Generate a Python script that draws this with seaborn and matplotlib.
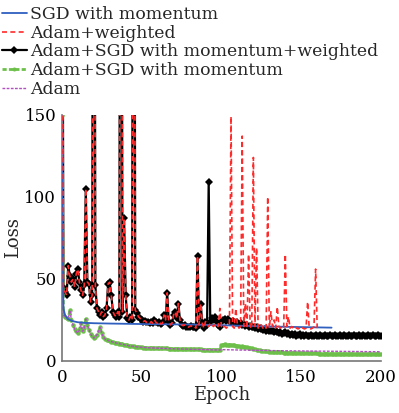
import numpy as np
import seaborn as sns
import matplotlib.pyplot as plt

# Adam+SGD with momentum+weighted, epochs 0..200
black_y = [400, 45, 42, 40, 58, 52, 48, 50, 45, 53,
           56, 48, 43, 40, 46, 105, 48, 47, 36, 40,
           600, 46, 32, 30, 28, 30, 27, 28, 32, 47,
           48, 40, 30, 28, 27, 30, 27, 600, 30, 87,
           40, 26, 25, 27, 25, 600, 31, 29, 27, 26,
           25, 24, 24.5, 23.5, 24, 23, 24, 23, 25, 23.5,
           23, 24, 22.5, 23, 28, 25, 41.5, 24, 22, 23,
           28, 30, 26, 35, 25, 22, 21.5, 22, 21, 20.5,
           21, 21.5, 20.5, 21, 20, 64, 22, 35, 23, 20,
           24, 22, 109, 24, 26, 25, 27, 24, 22, 21,
           24, 25, 25.5, 24.5, 25.5, 24.5, 24, 24.5, 23.5, 23,
           23.5, 22.5, 23, 22, 22.5, 21.5, 22, 21, 21.5, 20.5,
           21, 20, 20.5, 19.5, 20, 19.5, 19, 19.5, 18.5, 19,
           18.5, 18, 18.5, 17.5, 18, 17.5, 17, 17.5, 16.5, 17,
           17.5, 16.5, 17, 16, 16.5, 16, 16.5, 15.5, 16, 16.5,
           15.5, 16, 15.5, 16, 15, 15.5, 16, 15, 15.5, 16,
           15, 15.5, 16, 15, 15.5, 16, 15, 15.5, 16, 15,
           15.5, 16, 15, 15.5, 16, 15, 15.5, 16, 15, 15.5,
           16, 15, 15.5, 16, 15, 15.5, 16, 15, 15.5, 16,
           15, 15.5, 16, 15, 15.5, 16, 15, 15.5, 16, 15,
           15.5]

# Adam+weighted: same as above up to epoch 90, then its own run to 160
red_tail = [22, 21, 23, 22, 21, 22, 23, 21, 32,
            21, 22, 21, 20, 21, 22, 149, 21, 20, 32,
            22, 20, 21, 137, 21, 35, 20, 65, 21, 20,
            124, 21, 69, 20, 21, 22, 20, 21, 20, 100,
            20, 30, 21, 25, 20, 33, 21, 20, 21, 20,
            65, 21, 27, 20, 21, 20, 21, 20, 19.5, 20,
            21, 20, 19.5, 20, 36, 20, 19.5, 20, 21, 56,
            20]
red_y = black_y[:91] + red_tail

# SGD with momentum
blue_x = [0, 1, 2, 3, 4, 5, 7, 10, 15, 20, 30, 50, 80, 100, 130, 169]
blue_y = [122, 32, 28, 26.5, 25.5, 25, 24.2, 23.6, 23.2, 23, 22.8, 22.5, 22.2, 21.8, 21, 20.3]

# Adam+SGD with momentum, epochs 0..200
green_y = [150, 28, 27, 26, 25.5, 31, 25, 22, 19.5, 18,
           17, 19, 23, 18, 20, 25.5, 22, 19, 16.5, 15,
           14, 14.5, 16, 18, 20.5, 17, 14.5, 13.5, 13, 12.5,
           12, 11.8, 11.5, 11.2, 11, 10.7, 10.5, 10.3, 10.1, 9.9,
           9.7, 9.5, 9.3, 9.2, 9.0, 8.9, 8.8, 8.6, 8.5, 8.4,
           8.3, 8.2, 8.2, 8.1, 8.1, 8.0, 8.0, 7.9, 7.9, 7.8,
           7.8, 7.8, 7.7, 7.7, 7.6, 7.6, 7.6, 7.5, 7.5, 7.5,
           7.4, 7.4, 7.4, 7.3, 7.3, 7.3, 7.2, 7.2, 7.2, 7.2,
           7.1, 7.1, 7.1, 7.1, 7.0, 7.0, 7.0, 7.0, 6.9, 6.9,
           6.9, 6.9, 6.8, 6.8, 6.8, 6.8, 6.7, 6.7, 6.7, 6.7,
           9.6, 10.0, 10.2, 10.0, 9.8, 10.0, 9.7, 9.5, 9.6, 9.3,
           9.2, 9.0, 8.8, 8.9, 8.6, 8.4, 8.3, 8.0, 7.8, 7.6,
           7.3, 7.0, 6.8, 6.6, 6.5, 6.3, 6.2, 6.0, 5.9, 5.8,
           5.7, 5.6, 5.5, 5.5, 5.4, 5.3, 5.3, 5.2, 5.2, 5.1,
           5.1, 5.0, 5.0, 5.0, 4.9, 4.9, 4.9, 4.8, 4.8, 4.8,
           4.8, 4.7, 4.7, 4.7, 4.7, 4.7, 4.6, 4.6, 4.6, 4.6,
           4.6, 4.5, 4.5, 4.5, 4.5, 4.5, 4.5, 4.4, 4.4, 4.4,
           4.4, 4.4, 4.4, 4.4, 4.3, 4.3, 4.3, 4.3, 4.3, 4.3,
           4.3, 4.3, 4.3, 4.2, 4.2, 4.2, 4.2, 4.2, 4.2, 4.2,
           4.2, 4.2, 4.2, 4.2, 4.2, 4.2, 4.2, 4.2, 4.2, 4.2,
           4.2]

# Adam: follows the green run until epoch 99, then its own
adam_tail_x = [100, 120, 140, 160, 180, 200]
adam_tail_y = [6.9, 6.5, 6.2, 6.0, 5.8, 5.6]
adam_x = list(range(100)) + adam_tail_x
adam_y = green_y[:100] + adam_tail_y

sns.set_theme(style="white")
plt.rcParams['font.family'] = ['DejaVu Serif']

fig = plt.figure(figsize=(3.99, 4.13), dpi=100)
ax = fig.add_axes([0.155, 0.126, 0.8, 0.596])

ep = np.arange(len(black_y))
sns.lineplot(x=blue_x, y=blue_y, ax=ax, color="#2f5fbf", lw=1.3,
             label="SGD with momentum", zorder=3)
sns.lineplot(x=np.arange(len(red_y)), y=red_y, ax=ax, color="#ff2a2a", lw=1.2,
             linestyle=(0, (3, 2)), label="Adam+weighted", zorder=4)
sns.lineplot(x=ep, y=black_y, ax=ax, color="black", lw=1.6, marker="D",
             markersize=4.5, markeredgewidth=0, label="Adam+SGD with momentum+weighted", zorder=2)
sns.lineplot(x=np.arange(len(green_y)), y=green_y, ax=ax, color="#6cc04a", lw=2.0,
             linestyle=(0, (1.5, 0.8)), marker="o", markersize=3.2, markeredgewidth=0,
             label="Adam+SGD with momentum", zorder=2.5)
sns.lineplot(x=adam_x, y=adam_y, ax=ax, color="#b04fc0", lw=1.0,
             linestyle=(0, (2, 1)), label="Adam", zorder=2.6)

ax.set_xlim(0, 200)
ax.set_ylim(0, 150)
ax.set_xticks([0, 50, 100, 150, 200])
ax.set_yticks([0, 50, 100, 150])
ax.tick_params(direction="in", length=3, labelsize=12, colors="black")
ax.tick_params(axis="x", pad=6)
ax.tick_params(axis="y", pad=4)
for s in ["top", "right"]:
    ax.spines[s].set_visible(False)
for s in ["left", "bottom"]:
    ax.spines[s].set_color("#777777")
    ax.spines[s].set_linewidth(1.2)
ax.set_xlabel("Epoch", fontsize=13, labelpad=0)
ax.set_ylabel("Loss", fontsize=13, labelpad=2)

h, l = ax.get_legend_handles_labels()
ax.get_legend().remove()
fig.legend(h, l, loc="upper left", bbox_to_anchor=(0.0, 0.99), frameon=False,
           fontsize=12.4, handlelength=1.45, handletextpad=0.2, labelspacing=0.1,
           borderpad=0.1, borderaxespad=0, numpoints=1, markerscale=0.9)

fig.savefig("out.png", dpi=100)
